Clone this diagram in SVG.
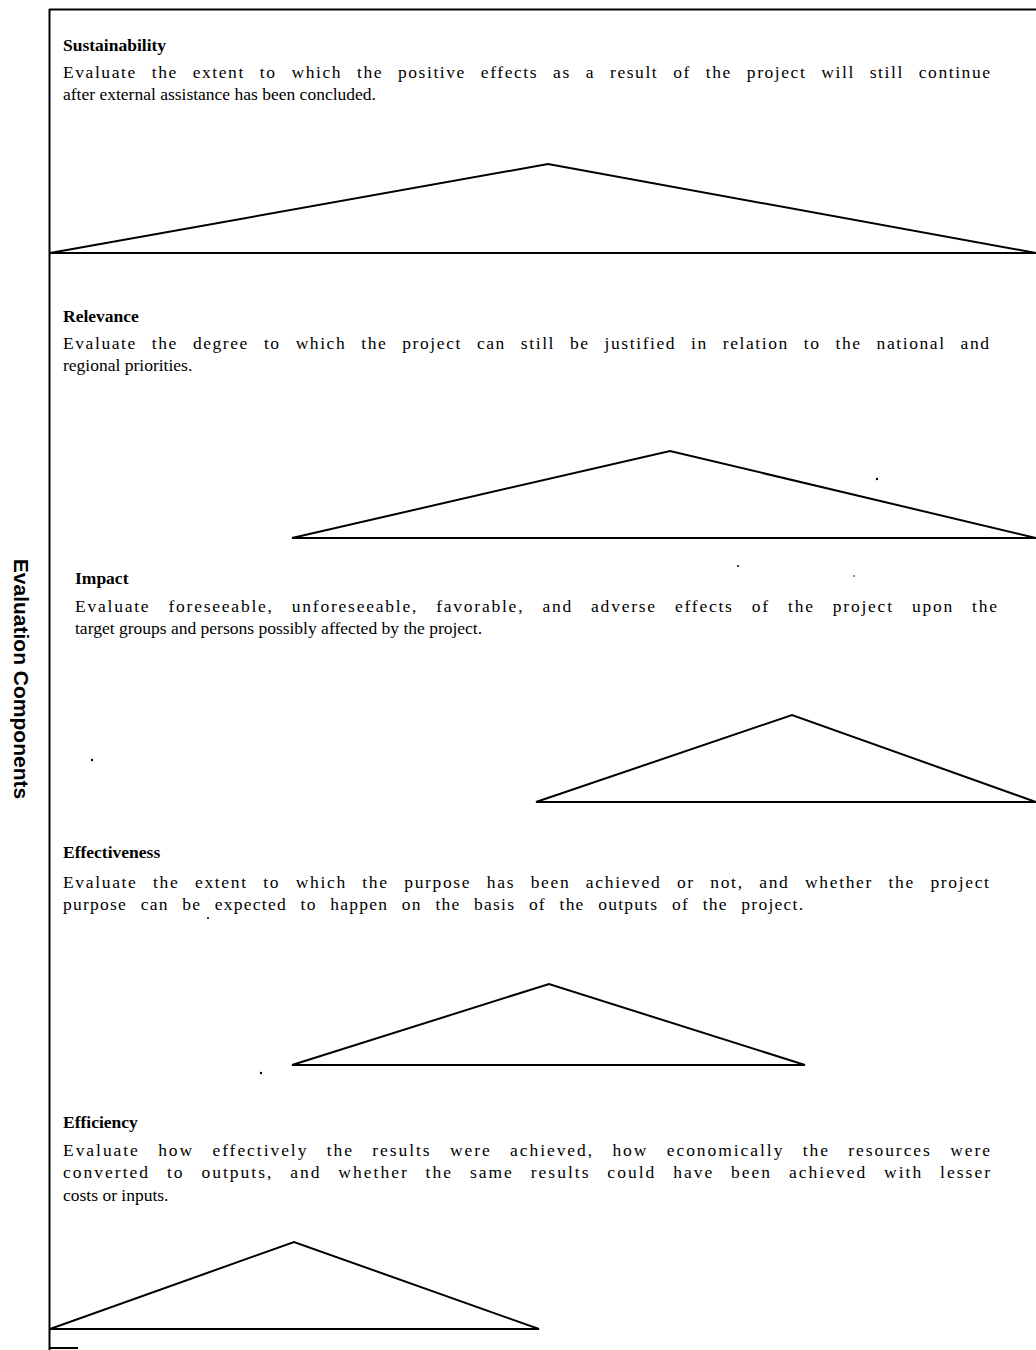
<svg xmlns="http://www.w3.org/2000/svg" width="1036" height="1350" viewBox="0 0 1036 1350">
  <style>
    .frame { stroke: #000; stroke-width: 2; fill: none; }
    .tri { stroke: #000; stroke-width: 2; fill: none; stroke-linejoin: miter; }
    .title { font-family: "Liberation Serif", "Times New Roman", serif; font-size: 17.5px; font-weight: bold; fill: #000; }
    .body { font-family: "Liberation Serif", "Times New Roman", serif; font-size: 17.5px; fill: #000; }
    .axis { font-family: "Liberation Sans", Arial, sans-serif; font-size: 21px; font-weight: bold; fill: #000; }
    .speck { fill: #000; }
  </style>
  <rect width="1036" height="1350" fill="#fff"/>

  <!-- outer frame: top rule, left axis rule, small foot tick -->
  <g id="frame">
    <line class="frame" x1="49" y1="9.5" x2="1036" y2="9.5"/>
    <line class="frame" x1="49.5" y1="9" x2="49.5" y2="1350"/>
    <line class="frame" x1="49" y1="1348" x2="78" y2="1348"/>
  </g>

  <!-- vertical axis label -->
  <g id="axis-label">
    <text class="axis" x="679" y="-14" text-anchor="middle" transform="rotate(90)">Evaluation Components</text>
  </g>

  <!-- each component: heading and justified description -->
  <g id="sustainability">
    <text class="title" x="63" y="51">Sustainability</text>
    <text class="body" x="63" y="78" word-spacing="9" textLength="927" lengthAdjust="spacing">Evaluate the extent to which the positive effects as a result of the project will still continue</text>
    <text class="body" x="63" y="100">after external assistance has been concluded.</text>
  </g>

  <g id="relevance">
    <text class="title" x="63" y="322">Relevance</text>
    <text class="body" x="63" y="349" word-spacing="9" textLength="926" lengthAdjust="spacing">Evaluate the degree to which the project can still be justified in relation to the national and</text>
    <text class="body" x="63" y="371">regional priorities.</text>
  </g>

  <g id="impact">
    <text class="title" x="75" y="584">Impact</text>
    <text class="body" x="75" y="612" word-spacing="12" textLength="922" lengthAdjust="spacing">Evaluate foreseeable, unforeseeable, favorable, and adverse effects of the project upon the</text>
    <text class="body" x="75" y="634">target groups and persons possibly affected by the project.</text>
  </g>

  <g id="effectiveness">
    <text class="title" x="63" y="858">Effectiveness</text>
    <text class="body" x="63" y="888" word-spacing="9.5" textLength="926" lengthAdjust="spacing">Evaluate the extent to which the purpose has been achieved or not, and whether the project</text>
    <text class="body" x="63" y="910" word-spacing="8" textLength="740" lengthAdjust="spacing">purpose can be expected to happen on the basis of the outputs of the project.</text>
  </g>

  <g id="efficiency">
    <text class="title" x="63" y="1128">Efficiency</text>
    <text class="body" x="63" y="1156" word-spacing="12" textLength="927" lengthAdjust="spacing">Evaluate how effectively the results were achieved, how economically the resources were</text>
    <text class="body" x="63" y="1178" word-spacing="10.5" textLength="927" lengthAdjust="spacing">converted to outputs, and whether the same results could have been achieved with lesser</text>
    <text class="body" x="63" y="1201">costs or inputs.</text>
  </g>

  <!-- triangles and the full-width rule under the first one -->
  <g id="shapes">
    <polygon class="tri" points="50,253 548,164 1036,253"/>
    <line class="frame" x1="49" y1="253" x2="1036" y2="253"/>
    <polygon class="tri" points="292,538 670,451 1036,538"/>
    <polygon class="tri" points="536,802 792,715 1036,802"/>
    <polygon class="tri" points="292,1065 549,984 805,1065"/>
    <polygon class="tri" points="50,1329 294,1242 539,1329"/>
  </g>

  <!-- scattered specks -->
  <g id="specks">
    <circle class="speck" cx="877" cy="479" r="1.2"/>
    <circle class="speck" cx="738" cy="566" r="1"/>
    <circle class="speck" cx="854" cy="576" r="0.8"/>
    <circle class="speck" cx="92" cy="760" r="1.2"/>
    <circle class="speck" cx="208" cy="918" r="1"/>
    <circle class="speck" cx="261" cy="1073" r="1.2"/>
  </g>
</svg>
